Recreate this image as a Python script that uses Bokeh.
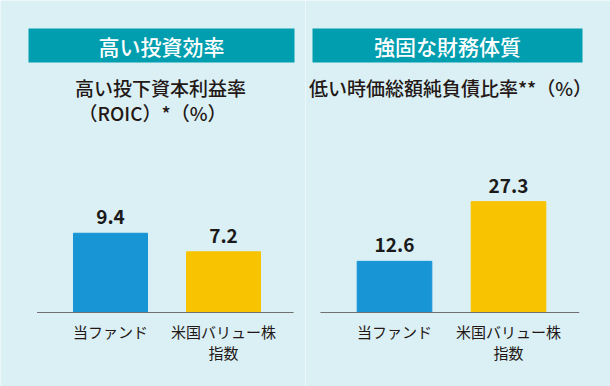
from bokeh.plotting import figure
from bokeh.models import Range1d, Label, BoxAnnotation, ColumnDataSource
from bokeh.layouts import row
from bokeh.embed import file_html
from bokeh.resources import INLINE
from bokeh.core.properties import value

# ---- data ----
categories = ["当ファンド", "米国バリュー株指数"]
label_line1 = ["当ファンド", "米国バリュー株"]
label_line2 = ["", "指数"]
roic = [9.4, 7.2]
net_debt_ratio = [12.6, 27.3]
bar_colors = ["#1795d5", "#f8c300"]
headers = ["高い投資効率", "強固な財務体質"]
subtitle_left = ["高い投下資本利益率", "（ROIC）*（%）"]
subtitle_right = ["低い時価総額純負債比率**（%）"]

BG = "#dbf0f5"
TEAL = "#009eae"
DARK = "#231815"
FONT = "Noto Sans CJK JP"
FONT_MED = "Noto Sans CJK JP Medium"
W, H = 305, 386


def panel(vals, xr, yr, header, box_lr, header_x, subs, sub_pos):
    p = figure(width=W, height=H, x_range=Range1d(*xr), y_range=Range1d(*yr),
               output_backend="svg", toolbar_location=None,
               min_border=0, outline_line_color=None,
               background_fill_color=BG, border_fill_color=BG)
    p.axis.visible = False
    p.grid.visible = False
    x = list(range(len(vals)))
    src = ColumnDataSource(dict(x=x, top=vals, color=bar_colors,
                                lab=[f"{v:.1f}" for v in vals],
                                l1=label_line1, l2=label_line2,
                                zero=[0] * len(vals)))
    p.vbar(x="x", top="top", width=0.655, color="color", source=src)
    p.segment(x0=[x[0] - 0.65], x1=[x[-1] + 0.62], y0=[0], y1=[0],
              line_color="#707070", line_width=1.2)
    p.text(x="x", y="top", text="lab", source=src, text_align="center",
           text_baseline="middle", y_offset=-16, text_font=value(FONT),
           text_font_style="bold", text_font_size="19px", text_color="#1a1a1a")
    p.text(x="x", y="zero", text="l1", source=src, text_align="center",
           text_baseline="middle", y_offset=19, text_font=value(FONT),
           text_font_size="15px", text_color=DARK)
    p.text(x="x", y="zero", text="l2", source=src, text_align="center",
           text_baseline="middle", y_offset=40, text_font=value(FONT),
           text_font_size="15px", text_color=DARK)
    p.add_layout(BoxAnnotation(left=box_lr[0], right=box_lr[1], bottom=H - 62, top=H - 28,
                               left_units="screen", right_units="screen",
                               bottom_units="screen", top_units="screen",
                               fill_color=TEAL, fill_alpha=1.0, line_color=None))
    p.add_layout(Label(x=header_x, y=H - 45, x_units="screen", y_units="screen",
                       text=header, text_align="center", text_baseline="middle",
                       text_font=FONT_MED, text_font_size="21px", text_color="white"))
    for s, (sx, sy) in zip(subs, sub_pos):
        p.add_layout(Label(x=sx, y=H - sy, x_units="screen", y_units="screen",
                           text=s, text_align="center", text_baseline="middle",
                           text_font=FONT_MED, text_font_size="19px",
                           text_color=DARK))
    return p


left = panel(roic, (-110 / 113, (W - 110) / 113), (-74 / 8.43, 312 / 8.43),
             headers[0], (28, 294), 161, subtitle_left, [(160, 87), (152, 112)])
right = panel(net_debt_ratio, (-89 / 114, (W - 89) / 114), (-74 / 4.06, 312 / 4.06),
              headers[1], (7, 277), 142, subtitle_right, [(145, 87)])

layout = row(left, right, spacing=0)
open("out.html", "w").write(file_html(layout, INLINE))
